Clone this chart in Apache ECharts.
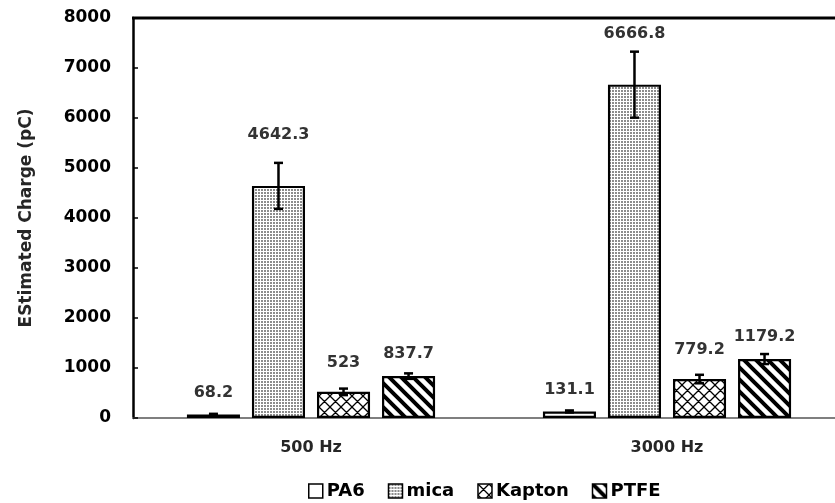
<!DOCTYPE html>
<html>
<head>
<meta charset="utf-8">
<script src="https://cdn.jsdelivr.net/npm/echarts@6/dist/echarts.min.js"></script>
<style>
  html, body { margin: 0; padding: 0; background: #fff; }
  #chart { width: 835px; height: 503px; }
</style>
</head>
<body>
<div id="chart"></div>
<script>
// Frequencies on the x axis
const categories = ['500 Hz', '3000 Hz'];
// Materials (legend order)
const materials = ['PA6', 'mica', 'Kapton', 'PTFE'];
// Mean estimated charge (pC) per material, one value per frequency
const pa6Values = [68.2, 131.1];
const micaValues = [4642.3, 6666.8];
const kaptonValues = [523, 779.2];
const ptfeValues = [837.7, 1179.2];
// Standard deviations for the error bars (pC)
const pa6Errors = [15, 20];
const micaErrors = [460, 660];
const kaptonErrors = [65, 85];
const ptfeErrors = [55, 100];
// Y axis ticks
const yMin = 0, yMax = 8000, yStep = 1000;

const FONT = '"DejaVu Sans", sans-serif';
const BAR_CAT_GAP = 0.303;
const BAR_GAP = 0.226;

// --- fill patterns -------------------------------------------------------
function makeTile(size, draw) {
  const c = document.createElement('canvas');
  c.width = size; c.height = size;
  const g = c.getContext('2d');
  g.fillStyle = '#fff';
  g.fillRect(0, 0, size, size);
  draw(g, size);
  return c;
}
const dotTile = makeTile(3, (g) => {
  g.fillStyle = '#8c8c8c';
  g.fillRect(0, 0, 2, 2);
});
const crossTile = makeTile(11, (g, s) => {
  g.strokeStyle = '#000';
  g.lineWidth = 1.3;
  g.beginPath();
  for (let k = -1; k <= 1; k++) {
    g.moveTo(k * s - 1, -1); g.lineTo(k * s + s + 1, s + 1);
    g.moveTo(k * s - 1, s + 1); g.lineTo(k * s + s + 1, -1);
  }
  g.stroke();
});
const stripeTile = makeTile(12, (g, s) => {
  g.strokeStyle = '#000';
  g.lineWidth = 4;
  g.beginPath();
  for (let k = -1; k <= 1; k++) {
    g.moveTo(k * s - 2, -2); g.lineTo(k * s + s + 2, s + 2);
  }
  g.stroke();
});

const fills = [
  '#ffffff',
  { image: dotTile, repeat: 'repeat' },
  { image: crossTile, repeat: 'repeat' },
  { image: stripeTile, repeat: 'repeat' }
];
const valueSets = [pa6Values, micaValues, kaptonValues, ptfeValues];
const errorSets = [pa6Errors, micaErrors, kaptonErrors, ptfeErrors];
const labelDistance = [14, 43, 21, 14];

const labelStyle = {
  color: '#333333', fontFamily: FONT, fontWeight: 'bold', fontSize: 16
};

const barSeries = materials.map((name, i) => ({
  name,
  type: 'bar',
  data: valueSets[i],
  barCategoryGap: (BAR_CAT_GAP * 100) + '%',
  barGap: (BAR_GAP * 100) + '%',
  itemStyle: { color: fills[i], borderColor: '#000', borderWidth: 2.2 },
  label: {
    show: true,
    position: 'top',
    distance: labelDistance[i],
    ...labelStyle,
    formatter: (p) => String(p.value)
  },
  emphasis: { disabled: true },
  z: 2
}));

// Error bars drawn on top of each bar
const errorSeries = materials.map((name, i) => ({
  name: name + ' error',
  type: 'custom',
  data: valueSets[i].map((v, j) => [j, v, errorSets[i][j]]),
  renderItem: (params, api) => {
    const cat = api.value(0), v = api.value(1), e = api.value(2);
    const band = api.size([1, 0])[0];
    const groupW = band * (1 - BAR_CAT_GAP);
    const barW = groupW / (materials.length + (materials.length - 1) * BAR_GAP);
    const center = api.coord([cat, v]);
    const x = center[0] - groupW / 2 + barW / 2 + i * barW * (1 + BAR_GAP);
    const hi = api.coord([cat, v + e])[1];
    const lo = api.coord([cat, v - e])[1];
    const cap = 4.5;
    const st = { stroke: '#000', lineWidth: 2.5 };
    return {
      type: 'group',
      children: [
        { type: 'line', shape: { x1: x, y1: hi, x2: x, y2: lo }, style: st },
        { type: 'line', shape: { x1: x - cap, y1: hi, x2: x + cap, y2: hi }, style: st },
        { type: 'line', shape: { x1: x - cap, y1: lo, x2: x + cap, y2: lo }, style: st }
      ]
    };
  },
  z: 5,
  silent: true
}));

const chart = echarts.init(document.getElementById('chart'), null, { renderer: 'canvas' });
chart.setOption({
  animation: false,
  backgroundColor: '#fff',
  // plot runs past the right edge of the canvas
  grid: { left: 133, top: 18, width: 712, height: 400,
    containLabel: false, outerBoundsMode: 'none' },
  legend: {
    data: materials,
    top: 477,
    left: 303,
    icon: 'rect',
    itemWidth: 14,
    itemHeight: 14,
    itemGap: 23,
    itemStyle: { borderColor: '#000', borderWidth: 1.5 },
    textStyle: { ...labelStyle, color: '#000', fontSize: 18, padding: [0, 0, 0, -1] }
  },
  xAxis: {
    type: 'category',
    data: categories,
    axisLine: { lineStyle: { color: '#7f7f7f', width: 2 } },
    axisTick: { show: false },
    axisLabel: { ...labelStyle, color: '#262626', fontSize: 16, margin: 22 }
  },
  yAxis: {
    type: 'value',
    min: yMin, max: yMax, interval: yStep,
    name: 'EStimated Charge (pC)',
    nameLocation: 'middle',
    nameGap: 98,
    nameRotate: 90,
    nameTextStyle: { color: '#262626', fontFamily: FONT, fontWeight: 'bold', fontSize: 17 },
    axisLine: { show: true, lineStyle: { color: '#000', width: 2.5 } },
    axisTick: { show: true, inside: true, length: 5, lineStyle: { color: '#000', width: 1.5 } },
    splitLine: { show: false },
    axisLabel: { ...labelStyle, color: '#000', fontSize: 17, margin: 22,
      formatter: (v) => String(v) }
  },
  graphic: [
    { type: 'line', shape: { x1: 132, y1: 18, x2: 835, y2: 18 },
      style: { stroke: '#000', lineWidth: 3 }, z: 10 }
  ],
  series: [...barSeries, ...errorSeries]
});
</script>
</body>
</html>
